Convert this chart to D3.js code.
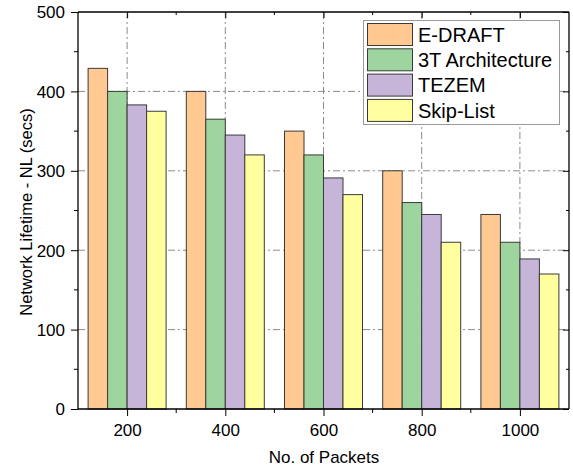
<!DOCTYPE html>
<html><head><meta charset="utf-8">
<script src="https://cdn.jsdelivr.net/npm/d3@7"></script>
<style>body{margin:0;background:#fff}svg{display:block}text{font-family:"Liberation Sans",Arial,sans-serif;fill:#000}</style>
</head><body>
<svg id="c" width="573" height="469"></svg>
<script>
const categories = [200, 400, 600, 800, 1000];
const seriesNames = ["E-DRAFT", "3T Architecture", "TEZEM", "Skip-List"];
const eDraft = [429, 400, 350, 300, 245];
const threeT = [400, 365, 320, 260, 210];
const tezem = [383, 345, 291, 245, 189];
const skipList = [375, 320, 270, 210, 170];
const colors = ["#FFC991", "#9ED59E", "#C6B5D8", "#FFFFA0"];
const yTicks = [0, 100, 200, 300, 400, 500];
const yMinorTicks = [50, 150, 250, 350, 450];
const xMinorTicks = [300, 500, 700, 900];

const series = [eDraft, threeT, tezem, skipList];
const svg = d3.select("#c");
const L = 78, R = 569, T = 12, B = 409;
const x = d3.scaleLinear().domain([100, 1100]).range([L, R]);
const y = d3.scaleLinear().domain([0, 500]).range([B, T]);
const groupW = 78;
const xb = d3.scaleBand().domain(d3.range(series.length)).range([-groupW/2, groupW/2]).padding(0);

// grid
const grid = svg.append("g").attr("stroke", "#8a8a8a").attr("stroke-width", 1).attr("stroke-dasharray", "7,3,2,3");
grid.selectAll(".gh").data(yTicks.filter(d => d > 0 && d < 500)).join("line")
  .attr("x1", L).attr("x2", R).attr("y1", d => y(d)).attr("y2", d => y(d));
grid.selectAll(".gv").data(categories).join("line")
  .attr("x1", d => x(d)).attr("x2", d => x(d)).attr("y1", T).attr("y2", B);

// bars
series.forEach((s, i) => {
  svg.append("g").selectAll("rect").data(s).join("rect")
    .attr("x", (d, j) => x(categories[j]) + xb(i))
    .attr("width", xb.bandwidth())
    .attr("y", d => y(d))
    .attr("height", d => B - y(d))
    .attr("fill", colors[i])
    .attr("stroke", "#3a3a3a").attr("stroke-width", 1);
});

// axes
const axL = d3.axisLeft(y).tickValues(yTicks).tickSize(7).tickPadding(6);
const gL = svg.append("g").attr("transform", `translate(${L},0)`).call(axL);
gL.selectAll(".tick text").style("font-size", "17px").attr("dy", "0.35em");
gL.select(".domain").attr("d", `M0,${T}V${B}`);
gL.append("g").selectAll("line").data(yMinorTicks).join("line")
  .attr("x1", -4).attr("x2", 0).attr("y1", d => y(d)).attr("y2", d => y(d)).attr("stroke", "#000");

const axB = d3.axisBottom(x).tickValues(categories).tickSize(7).tickPadding(8).tickFormat(d3.format("d"));
const gB = svg.append("g").attr("transform", `translate(0,${B})`).call(axB);
gB.selectAll(".tick text").style("font-size", "17px");
gB.select(".domain").attr("d", `M${L},0H${R}`);
gB.append("g").selectAll("line").data(xMinorTicks).join("line")
  .attr("x1", d => x(d)).attr("x2", d => x(d)).attr("y1", 0).attr("y2", 4).attr("stroke", "#000");

const axR = d3.axisLeft(y).tickValues(yTicks).tickSize(6).tickFormat("");
const gR = svg.append("g").attr("transform", `translate(${R},0)`).call(axR);
gR.select(".domain").attr("d", `M0,${T}V${B}`);
gR.append("g").selectAll("line").data(yMinorTicks).join("line")
  .attr("x1", -3).attr("x2", 0).attr("y1", d => y(d)).attr("y2", d => y(d)).attr("stroke", "#000");

const axT = d3.axisBottom(x).tickValues(categories).tickSize(6).tickFormat("");
const gT = svg.append("g").attr("transform", `translate(0,${T})`).call(axT);
gT.select(".domain").attr("d", `M${L},0H${R}`);
gT.append("g").selectAll("line").data(xMinorTicks).join("line")
  .attr("x1", d => x(d)).attr("x2", d => x(d)).attr("y1", 0).attr("y2", 3).attr("stroke", "#000");

svg.selectAll(".domain").attr("stroke", "#000").attr("stroke-width", 1.3);

// titles
svg.append("text").attr("x", 324).attr("y", 463).attr("text-anchor", "middle")
  .style("font-size", "17px").text("No. of Packets");
svg.append("text").attr("transform", `translate(32,212) rotate(-90)`).attr("text-anchor", "middle")
  .style("font-size", "16.5px").text("Network Lifetime - NL (secs)");

// legend
const lg = svg.append("g");
lg.append("rect").attr("x", 363.5).attr("y", 20.5).attr("width", 196).attr("height", 104)
  .attr("fill", "#fff").attr("stroke", "#9a9a9a").attr("stroke-width", 1);
seriesNames.forEach((n, i) => {
  const yy = 23 + i * 25.3;
  lg.append("rect").attr("x", 367.5).attr("y", yy + 0.5).attr("width", 45).attr("height", 22)
    .attr("fill", colors[i]).attr("stroke", "#3a3a3a").attr("stroke-width", 1);
  lg.append("text").attr("x", 418).attr("y", yy + 11.5).attr("dy", "0.36em")
    .style("font-size", "20px").text(n);
});
</script>
</body></html>
